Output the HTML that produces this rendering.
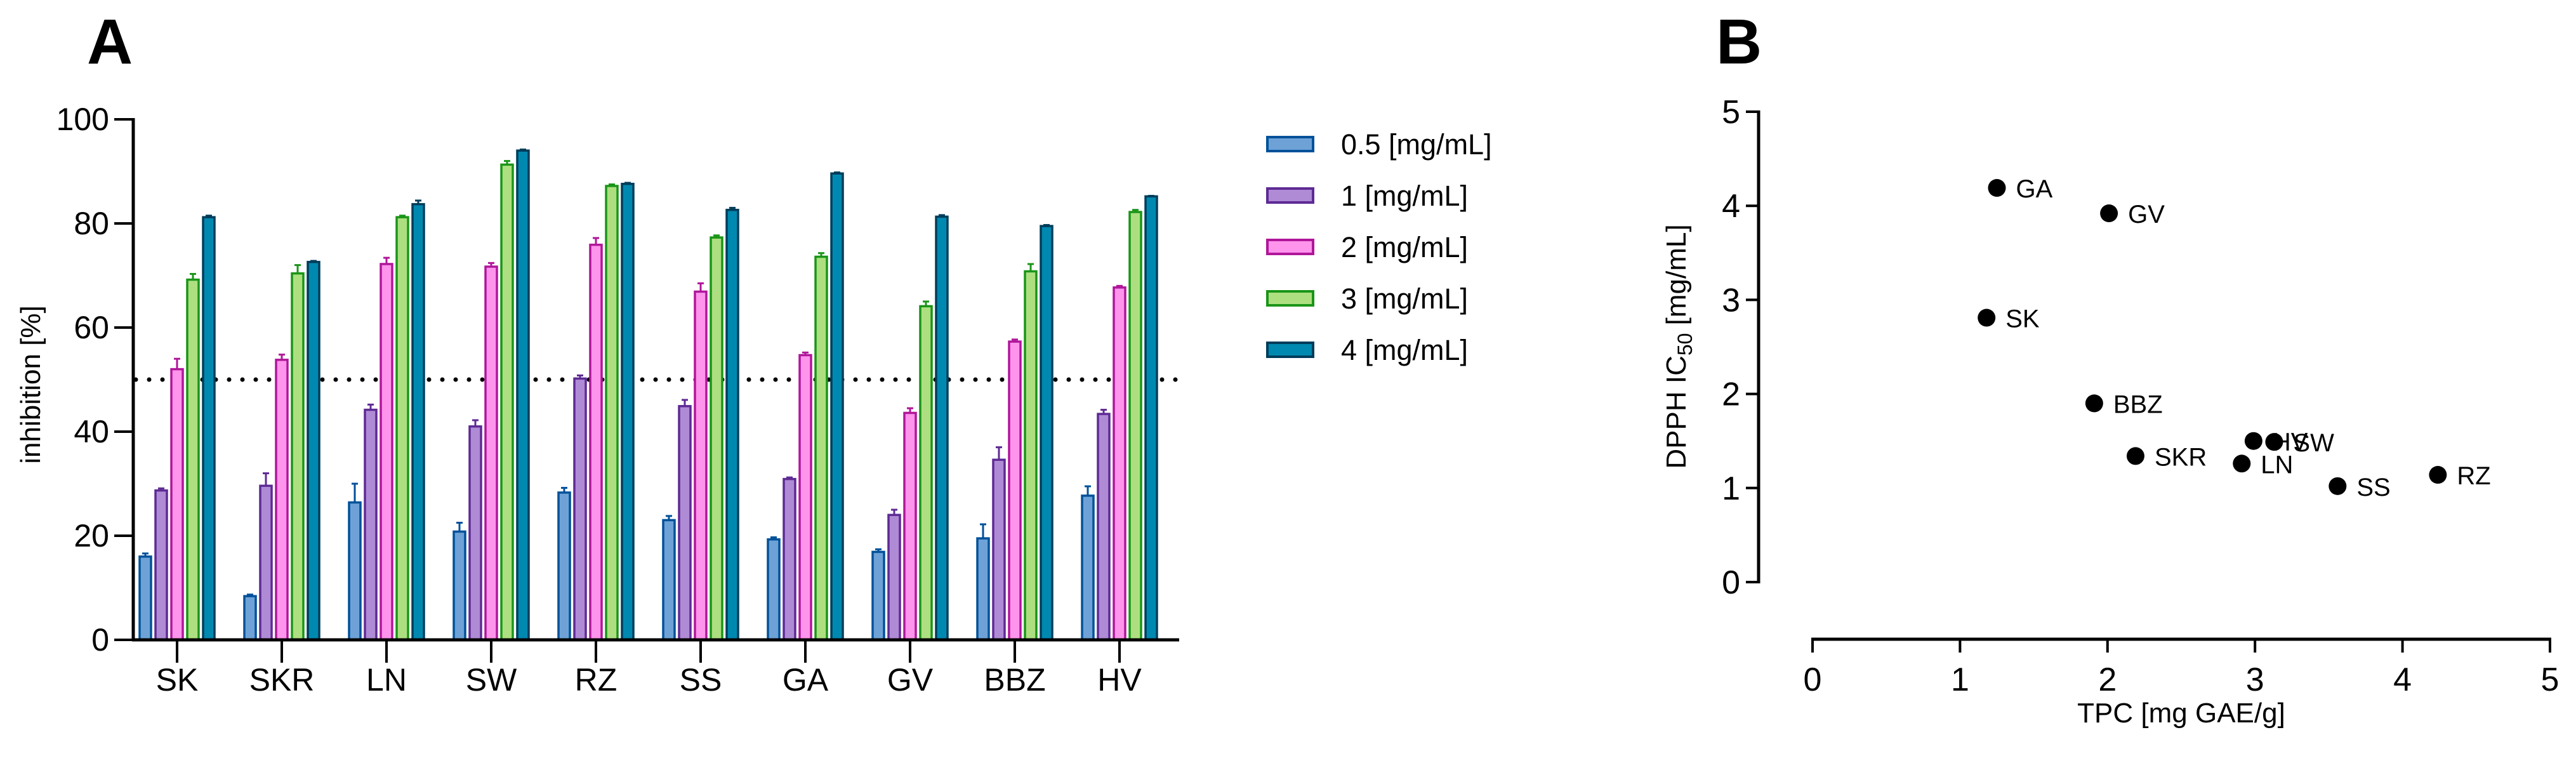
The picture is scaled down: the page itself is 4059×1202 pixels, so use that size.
<!DOCTYPE html>
<html><head><meta charset="utf-8"><style>
html,body{margin:0;padding:0;background:#fff}
svg text{font-family:"Liberation Sans Narrow","Liberation Sans",sans-serif}
.reg{font-family:"Liberation Sans",sans-serif!important}
</style></head><body>
<svg id="chart" width="4059" height="1197" viewBox="0 0 4059 1197" xmlns="http://www.w3.org/2000/svg">
<g id="pa"></g>
<g id="pb"></g>
</svg>
<script>
const categories = ["SK","SKR","LN","SW","RZ","SS","GA","GV","BBZ","HV"];
const seriesNames = ["0.5 [mg/mL]","1 [mg/mL]","2 [mg/mL]","3 [mg/mL]","4 [mg/mL]"];
const s05 = [16.0, 8.4, 26.4, 20.8, 28.3, 23.0, 19.3, 16.9, 19.5, 27.7];
const s05err = [0.6, 0.3, 3.6, 1.7, 0.9, 0.8, 0.4, 0.5, 2.7, 1.8];
const s1 = [28.7, 29.6, 44.2, 41.0, 50.2, 44.9, 30.9, 24.0, 34.6, 43.4];
const s1err = [0.4, 2.4, 1.0, 1.2, 0.6, 1.2, 0.3, 1.0, 2.4, 0.8];
const s2 = [52.0, 53.8, 72.2, 71.7, 75.9, 66.9, 54.7, 43.6, 57.3, 67.7];
const s2err = [2.0, 1.0, 1.2, 0.7, 1.3, 1.6, 0.5, 0.9, 0.4, 0.3];
const s3 = [69.2, 70.4, 81.2, 91.3, 87.2, 77.3, 73.6, 64.1, 70.8, 82.2];
const s3err = [1.1, 1.6, 0.3, 0.7, 0.3, 0.4, 0.7, 0.9, 1.4, 0.4];
const s4 = [81.2, 72.6, 83.7, 94.0, 87.6, 82.6, 89.6, 81.3, 79.5, 85.2];
const s4err = [0.3, 0.2, 0.7, 0.2, 0.2, 0.4, 0.2, 0.3, 0.2, 0.1];
const yTicksA = [0,20,40,60,80,100];
const refLine = 50;

const ptNames = ["GA","GV","SK","BBZ","SKR","HV","SW","LN","SS","RZ"];
const ptTPC = [1.25, 2.01, 1.18, 1.91, 2.19, 2.99, 3.13, 2.91, 3.56, 4.24];
const ptIC50 = [4.19, 3.92, 2.81, 1.90, 1.34, 1.50, 1.49, 1.26, 1.02, 1.14];
const ticksB = [0,1,2,3,4,5];

const NS="http://www.w3.org/2000/svg";
function mk(tag, attrs, parent, txt){const e=document.createElementNS(NS,tag);for(const k in attrs)e.setAttribute(k,attrs[k]);if(txt!==undefined)e.textContent=txt;parent.appendChild(e);return e;}

// Panel A
const pa=document.getElementById('pa');
const yA=v=>1008-v*8.2;
const xA=i=>279+i*165;
const fills=["#6ea2d6","#af8bd6","#ff94ec","#addf80","#0089b0"];
const strokes=["#00519a","#5e2a94","#b0169a","#1a9518","#003d5a"];
const vals=[s05,s1,s2,s3,s4], errs=[s05err,s1err,s2err,s3err,s4err];
let t=mk('text',{x:137,y:100,'font-size':100,'font-weight':'bold',class:'reg'},pa,'A');

let dl=mk('line',{x1:214,x2:1858,y1:yA(refLine),y2:yA(refLine),stroke:'#000','stroke-width':7,'stroke-linecap':'round','stroke-dasharray':'0 21'},pa);

categories.forEach((c,i)=>{
  for(let s=0;s<5;s++){
    const cx=xA(i)+(s-2)*25, v=vals[s][i], e=errs[s][i];
    const g=mk('g',{},pa);
    
    mk('line',{x1:cx,x2:cx,y1:yA(v),y2:yA(v+e),stroke:strokes[s],'stroke-width':3},g);
    mk('line',{x1:cx-5,x2:cx+5,y1:yA(v+e),y2:yA(v+e),stroke:strokes[s],'stroke-width':3},g);
    mk('rect',{x:cx-9,y:yA(v),width:18,height:yA(0)-yA(v),fill:fills[s],stroke:strokes[s],'stroke-width':3.5},g);
  }
  const lb=mk('text',{x:xA(i),y:1088,'font-size':50,'text-anchor':'middle'},pa,c);
  
  mk('line',{x1:xA(i),x2:xA(i),y1:1008,y2:1044,stroke:'#000','stroke-width':4},pa);
});
mk('line',{x1:210,x2:210,y1:186,y2:1010,stroke:'#000','stroke-width':5},pa);
mk('line',{x1:208,x2:1858,y1:1008,y2:1008,stroke:'#000','stroke-width':5},pa);
yTicksA.forEach(v=>{
  mk('line',{x1:180,x2:210,y1:yA(v),y2:yA(v),stroke:'#000','stroke-width':4},pa);
  const tl=mk('text',{x:172,y:yA(v)+17,'font-size':50,'text-anchor':'end'},pa,String(v));
  
});
t=mk('text',{x:0,y:0,'font-size':44,'text-anchor':'middle',class:'reg',transform:'translate(63,606) rotate(-90)'},pa,'inhibition [%]');

seriesNames.forEach((n,s)=>{
  const y=227+s*81;
  const g=mk('g',{},pa);
  
  mk('rect',{x:1997,y:y-11,width:72,height:22,fill:fills[s],stroke:strokes[s],'stroke-width':4},g);
  mk('text',{x:2113,y:y+16,'font-size':45,class:'reg'},g,n);
});

// Panel B
const pb=document.getElementById('pb');
const xB=v=>2856+v*232.4, yB=v=>917-v*148.2;
t=mk('text',{x:2704,y:100,'font-size':100,'font-weight':'bold',class:'reg'},pb,'B');

mk('line',{x1:2771,x2:2771,y1:174,y2:919,stroke:'#000','stroke-width':5},pb);
mk('line',{x1:2854,x2:4020,y1:1007,y2:1007,stroke:'#000','stroke-width':5},pb);
ticksB.forEach(v=>{
  mk('line',{x1:2751,x2:2771,y1:yB(v),y2:yB(v),stroke:'#000','stroke-width':4},pb);
  let a=mk('text',{x:2742,y:yB(v)+18,'font-size':52,'text-anchor':'end'},pb,String(v));
  
  mk('line',{x1:xB(v),x2:xB(v),y1:1007,y2:1028,stroke:'#000','stroke-width':4},pb);
  a=mk('text',{x:xB(v),y:1088,'font-size':52,'text-anchor':'middle'},pb,String(v));
  
});
ptNames.forEach((n,i)=>{
  const g=mk('g',{},pb);
  
  mk('ellipse',{cx:xB(ptTPC[i]),cy:yB(ptIC50[i]),rx:14,ry:14,fill:'#000'},g);
  mk('text',{x:xB(ptTPC[i])+30,y:yB(ptIC50[i])+15,'font-size':40,class:'reg'},g,n);
});
t=mk('text',{x:3437,y:1138,'font-size':44,'text-anchor':'middle',class:'reg'},pb,'TPC [mg GAE/g]');

t=mk('text',{x:0,y:0,'font-size':44,'text-anchor':'middle',class:'reg',transform:'translate(2656,546) rotate(-90)'},pb);

mk('tspan',{},t,'DPPH IC');mk('tspan',{'font-size':32,dy:10},t,'50');mk('tspan',{dy:-10},t,' [mg/mL]');
</script>
</body></html>
